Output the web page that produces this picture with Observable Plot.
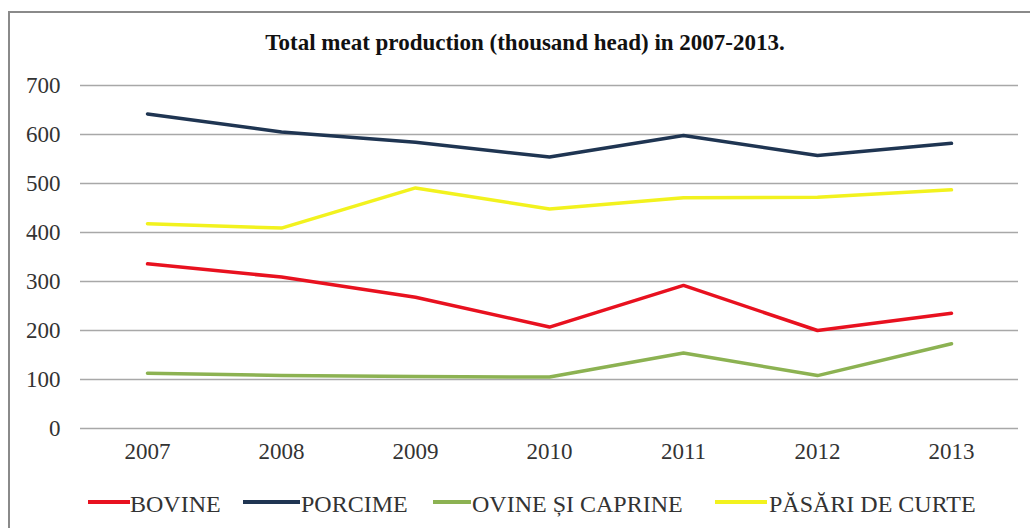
<!DOCTYPE html>
<html>
<head>
<meta charset="utf-8">
<script src="https://cdn.jsdelivr.net/npm/d3@7"></script>
<script src="https://cdn.jsdelivr.net/npm/@observablehq/plot@0.6"></script>
<style>
  html, body { margin: 0; padding: 0; background: #fff; width: 1030px; height: 528px; overflow: hidden; }
  body { position: relative; font-family: "Liberation Serif", "Times New Roman", serif; }
  #frame { position: absolute; left: 8px; top: 11px; width: 1040px; height: 540px; border: 2px solid #8a8a8a; box-sizing: border-box; }
  #title { position: absolute; left: 0; top: 31px; width: 1050px; text-align: center; font-weight: bold; font-size: 23px; line-height: 23px; color: #111; }
  #chart { position: absolute; left: 0; top: 0; }
  .leg { position: absolute; top: 492px; font-size: 24px; line-height: 24px; color: #333; white-space: nowrap; }
  .sw { position: absolute; height: 4px; top: 500px; }
</style>
</head>
<body>
<div id="frame"></div>
<div id="title">Total meat production (thousand head) in 2007-2013.</div>
<div id="chart"></div>
<div id="legend"></div>
<script>
const years = ["2007", "2008", "2009", "2010", "2011", "2012", "2013"];
const seriesNames = ["BOVINE", "PORCIME", "OVINE ȘI CAPRINE", "PĂSĂRI DE CURTE"];
const seriesColors = ["#e8111f", "#1f3552", "#8cb252", "#f2f21e"];
const bovine = [336, 309, 268, 207, 292, 200, 235];
const porcime = [642, 605, 584, 554, 598, 557, 582];
const ovine = [113, 108, 106, 105, 154, 108, 173];
const pasari = [418, 409, 491, 448, 471, 472, 487];
const yTicks = [0, 100, 200, 300, 400, 500, 600, 700];

const seriesValues = [bovine, porcime, ovine, pasari];
const data = [];
seriesNames.forEach((s, i) => {
  years.forEach((y, j) => data.push({series: s, year: y, value: seriesValues[i][j]}));
});

const chart = Plot.plot({
  width: 1030,
  height: 480,
  marginLeft: 80,
  marginRight: 12,
  marginTop: 85,
  marginBottom: 52,
  style: {fontFamily: "Liberation Serif", fontSize: "23px", color: "#333", background: "transparent", overflow: "visible"},
  x: {type: "point", domain: years, padding: 0.5, label: null, tickSize: 0, tickPadding: 14},
  y: {domain: [0, 700], ticks: yTicks, label: null, tickSize: 0, tickPadding: 20},
  color: {domain: seriesNames, range: seriesColors},
  marks: [
    Plot.ruleY(yTicks, {stroke: "#a8a8a8", strokeWidth: 1.5}),
    Plot.line(data, {x: "year", y: "value", z: "series", stroke: "series", strokeWidth: 3.5, strokeLinejoin: "round", strokeLinecap: "round"})
  ]
});
document.getElementById("chart").appendChild(chart);

// legend
const legPos = [
  {sw: 88, w: 42, tx: 130},
  {sw: 243, w: 57, tx: 301},
  {sw: 433, w: 38, tx: 472},
  {sw: 715, w: 52, tx: 769}
];
const legend = document.getElementById("legend");
seriesNames.forEach((s, i) => {
  const sw = document.createElement("div");
  sw.className = "sw";
  sw.style.left = legPos[i].sw + "px";
  sw.style.width = legPos[i].w + "px";
  sw.style.background = seriesColors[i];
  legend.appendChild(sw);
  const t = document.createElement("div");
  t.className = "leg";
  t.style.left = legPos[i].tx + "px";
  t.textContent = s;
  legend.appendChild(t);
});
</script>
</body>
</html>
